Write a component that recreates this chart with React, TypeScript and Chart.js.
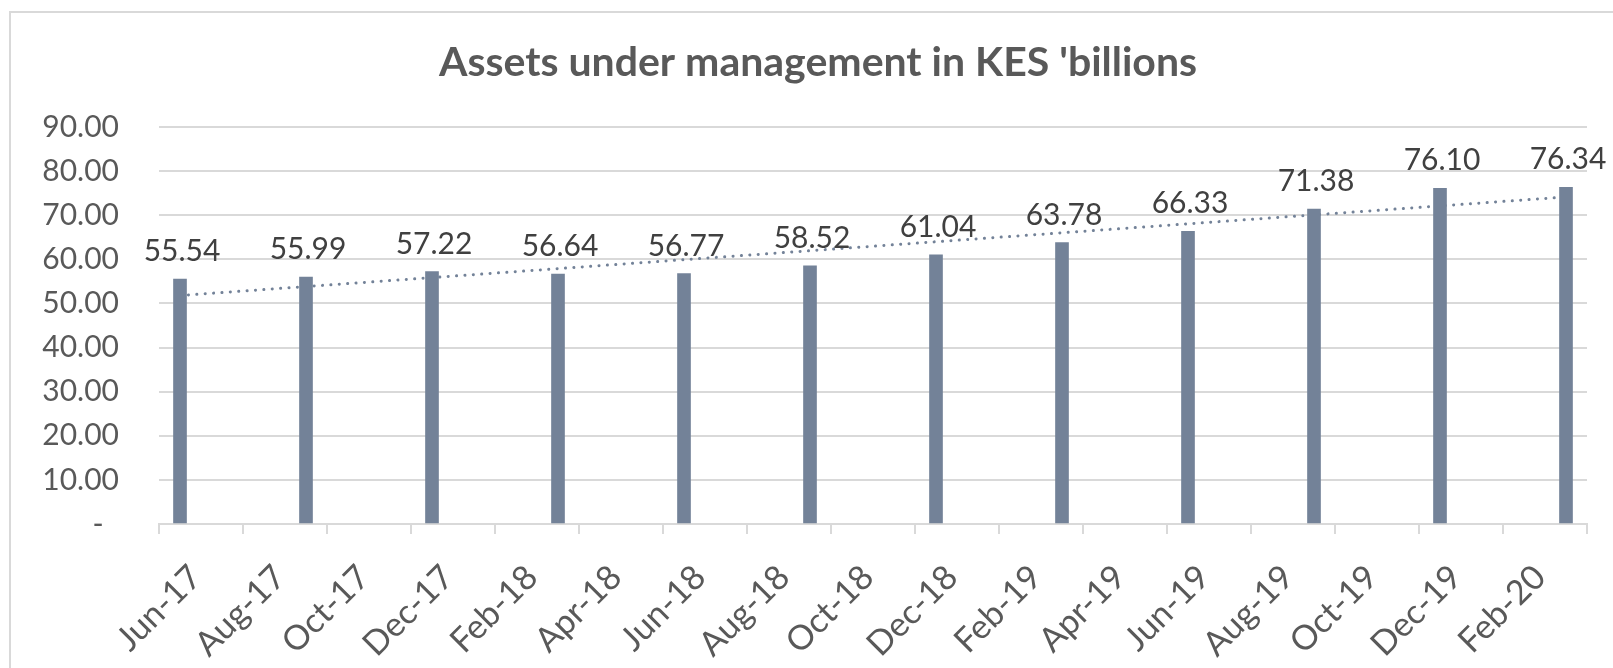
import React, { useEffect, useRef } from 'react';
import { Chart, registerables } from 'chart.js';

Chart.register(...registerables);

const chartTitle = "Assets under management in KES 'billions";

// monthly time axis (Excel date axis, base unit = month)
const months = [
  'Jun-17', 'Jul-17', 'Aug-17', 'Sep-17', 'Oct-17', 'Nov-17', 'Dec-17',
  'Jan-18', 'Feb-18', 'Mar-18', 'Apr-18', 'May-18', 'Jun-18', 'Jul-18', 'Aug-18', 'Sep-18', 'Oct-18', 'Nov-18', 'Dec-18',
  'Jan-19', 'Feb-19', 'Mar-19', 'Apr-19', 'May-19', 'Jun-19', 'Jul-19', 'Aug-19', 'Sep-19', 'Oct-19', 'Nov-19', 'Dec-19',
  'Jan-20', 'Feb-20', 'Mar-20',
];

// axis labels shown (every 2nd month)
const axisLabels = [
  'Jun-17', 'Aug-17', 'Oct-17', 'Dec-17', 'Feb-18', 'Apr-18', 'Jun-18', 'Aug-18', 'Oct-18',
  'Dec-18', 'Feb-19', 'Apr-19', 'Jun-19', 'Aug-19', 'Oct-19', 'Dec-19', 'Feb-20',
];

// quarter-end observation dates
const quarters = [
  'Jun-17', 'Sep-17', 'Dec-17', 'Mar-18', 'Jun-18', 'Sep-18',
  'Dec-18', 'Mar-19', 'Jun-19', 'Sep-19', 'Dec-19', 'Mar-20',
];

// assets under management, KES billions
const aumValues = [55.54, 55.99, 57.22, 56.64, 56.77, 58.52, 61.04, 63.78, 66.33, 71.38, 76.1, 76.34];

const yTickValues = [0, 10, 20, 30, 40, 50, 60, 70, 80, 90];

const BAR_COLOR = '#738298';
const GRID_COLOR = '#d9d9d9';
const TICK_TEXT = '#595959';
const LABEL_TEXT = '#404040';
const FONT = 'Lato, "Open Sans", sans-serif';

export default function App() {
  const canvasRef = useRef<HTMLCanvasElement | null>(null);

  useEffect(() => {
    const canvas = canvasRef.current;
    if (!canvas) return;

    const barPoints = quarters.map((q, i) => ({ x: months.indexOf(q), y: aumValues[i] }));

    // linear (least squares) trendline, as Excel draws it
    const n = barPoints.length;
    const mx = barPoints.reduce((s, p) => s + p.x, 0) / n;
    const my = barPoints.reduce((s, p) => s + p.y, 0) / n;
    let sxy = 0;
    let sxx = 0;
    barPoints.forEach((p) => {
      sxy += (p.x - mx) * (p.y - my);
      sxx += (p.x - mx) * (p.x - mx);
    });
    const slope = sxy / sxx;
    const icpt = my - slope * mx;
    const x0 = barPoints[0].x;
    const x1 = barPoints[n - 1].x;
    const trendPoints = [
      { x: x0, y: icpt + slope * x0 },
      { x: x1, y: icpt + slope * x1 },
    ];

    const labelPositions = axisLabels.map((l) => months.indexOf(l));
    const boundaryPositions: number[] = [];
    for (let i = 0; i <= months.length; i += 2) boundaryPositions.push(i - 0.5);

    const titlePlugin = {
      id: 'customTitle',
      afterDraw(chart: any) {
        const ctx = chart.ctx;
        ctx.save();
        ctx.font = `bold 41px ${FONT}`;
        ctx.fillStyle = TICK_TEXT;
        ctx.textAlign = 'center';
        ctx.textBaseline = 'alphabetic';
        ctx.fillText(chartTitle, 818, 76);
        ctx.restore();
      },
    };

    const dataLabelPlugin = {
      id: 'barValueLabels',
      afterDatasetsDraw(chart: any) {
        const ctx = chart.ctx;
        const meta = chart.getDatasetMeta(0);
        ctx.save();
        ctx.font = `30px ${FONT}`;
        ctx.fillStyle = LABEL_TEXT;
        ctx.textAlign = 'center';
        ctx.textBaseline = 'alphabetic';
        meta.data.forEach((el: any, i: number) => {
          ctx.fillText(aumValues[i].toFixed(2), el.x + 2, el.y - 18);
        });
        ctx.restore();
      },
    };

    const chart = new Chart(canvas, {
      type: 'bar',
      data: {
        datasets: [
          {
            type: 'bar',
            label: 'AUM',
            data: barPoints,
            backgroundColor: BAR_COLOR,
            barThickness: 13,
            order: 1,
          },
          {
            type: 'line',
            label: 'Linear trend',
            data: trendPoints,
            borderColor: BAR_COLOR,
            borderWidth: 3,
            borderDash: [0.1, 8.3],
            borderCapStyle: 'round',
            pointRadius: 0,
            fill: false,
            order: 2,
          },
        ],
      } as any,
      options: {
        animation: false,
        responsive: false,
        maintainAspectRatio: false,
        layout: { padding: { top: 127, right: 26, bottom: 0, left: 0 } },
        plugins: {
          legend: { display: false },
          title: { display: false },
          tooltip: { enabled: false },
        },
        scales: {
          x: {
            type: 'linear',
            min: -0.5,
            max: months.length - 0.5,
            offset: false,
            afterBuildTicks(scale: any) {
              const vals = [...labelPositions, ...boundaryPositions].sort((a, b) => a - b);
              scale.ticks = vals.map((v) => ({ value: v }));
            },
            afterFit(scale: any) {
              scale.height = 144;
              scale.paddingLeft = 0;
              scale.paddingRight = 0;
            },
            grid: {
              offset: false,
              drawOnChartArea: false,
              drawTicks: true,
              tickLength: 10,
              lineWidth: 2,
              color: (ctx: any) => {
                const v = ctx.tick ? ctx.tick.value : 0;
                return Number.isInteger(v) ? 'rgba(0,0,0,0)' : GRID_COLOR;
              },
            },
            border: { display: true, color: GRID_COLOR, width: 2 },
            ticks: {
              autoSkip: false,
              minRotation: 45,
              maxRotation: 45,
              padding: 23,
              labelOffset: 16,
              color: TICK_TEXT,
              font: { family: FONT, size: 34 },
              callback: (v: any) => {
                const idx = Number(v);
                return Number.isInteger(idx) && labelPositions.includes(idx) ? months[idx] : '';
              },
            },
          },
          y: {
            type: 'linear',
            min: yTickValues[0],
            max: yTickValues[yTickValues.length - 1],
            afterBuildTicks(scale: any) {
              scale.ticks = yTickValues.map((v) => ({ value: v }));
            },
            afterFit(scale: any) {
              scale.width = 159;
            },
            grid: {
              color: GRID_COLOR,
              lineWidth: 2,
              drawTicks: false,
            },
            border: { display: false },
            ticks: {
              padding: 40,
              color: TICK_TEXT,
              font: { family: FONT, size: 30 },
              callback: (v: any) => (Number(v) === 0 ? '-  ' : Number(v).toFixed(2)),
            },
          },
        },
      } as any,
      plugins: [titlePlugin, dataLabelPlugin],
    });

    return () => chart.destroy();
  }, []);

  return (
    <div style={{ position: 'fixed', left: 0, top: 0, width: 1613, height: 668, background: '#ffffff', overflow: 'hidden' }}>
      <div
        style={{
          position: 'absolute',
          left: 9,
          top: 11,
          width: 1700,
          height: 800,
          borderTop: `2px solid ${GRID_COLOR}`,
          borderLeft: `2px solid ${GRID_COLOR}`,
          boxSizing: 'border-box',
        }}
      />
      <canvas
        ref={canvasRef}
        width={1613}
        height={668}
        style={{ position: 'absolute', left: 0, top: 0, width: 1613, height: 668 }}
      />
    </div>
  );
}
